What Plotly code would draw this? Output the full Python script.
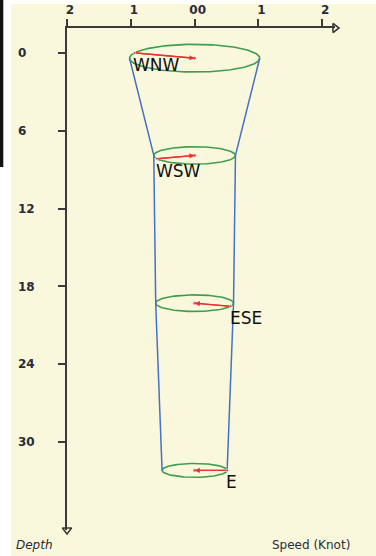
import numpy as np
import plotly.graph_objects as go

# ---- data ----
depths = [0.4, 7.9, 19.3, 32.2]
speeds = [1.02, 0.64, 0.61, 0.51]
directions = ["WNW", "WSW", "ESE", "E"]

x_tick_vals = [-2, -1, 0, 1, 2]
x_tick_text = ["2", "1", "00", "1", "2"]
depth_ticks = [0, 6, 12, 18, 24, 30]

COMPASS = {"N": 0, "NNE": 22.5, "NE": 45, "ENE": 67.5, "E": 90, "ESE": 112.5,
           "SE": 135, "SSE": 157.5, "S": 180, "SSW": 202.5, "SW": 225,
           "WSW": 247.5, "W": 270, "WNW": 292.5, "NW": 315, "NNW": 337.5}

X_RANGE = [-2, 2.2]
Y_RANGE = [36.8, -1.93]
FLAT = 1.05  # vertical radius of each ellipse (depth units) per knot

BG = "#FAF8DC"
AX = "#3a3a3a"
GREEN = "#3f9d4f"
BLUE = "#4672c4"
RED = "#e8332f"
TXT = "#2a2a3a"

W, H = 376, 556
L_PX, R_PX, T_PX, B_PX = 67, 335, 28, 530
PAPER_W = R_PX  # margin l = 0

fig = go.Figure()
t = np.linspace(0, 2 * np.pi, 161)
for d, s in zip(depths, speeds):
    ry = s * FLAT
    fig.add_trace(go.Scatter(x=s * np.cos(t), y=d + ry * np.sin(t), mode="lines",
                             line=dict(color=GREEN, width=1.6), hoverinfo="skip",
                             showlegend=False))

fig.add_trace(go.Scatter(x=[-s for s in speeds], y=depths, mode="lines",
                         line=dict(color=BLUE, width=1.5), showlegend=False, hoverinfo="skip"))
fig.add_trace(go.Scatter(x=speeds, y=depths, mode="lines",
                         line=dict(color=BLUE, width=1.5), showlegend=False, hoverinfo="skip"))

for d, s, lab in zip(depths, speeds, directions):
    th = np.deg2rad(COMPASS[lab])
    x0 = s * np.sin(th)
    y0 = d - s * FLAT * np.cos(th)
    fig.add_trace(go.Scatter(x=[x0, 0], y=[y0, d], mode="lines+markers",
                             marker=dict(size=[3, 4], color=RED),
                             line=dict(color=RED, width=1.4), showlegend=False,
                             hoverinfo="skip"))
    fig.add_annotation(x=0, y=d, ax=x0, ay=y0, axref="x", ayref="y", xref="x", yref="y",
                       text="", showarrow=True, arrowhead=2, arrowsize=0.8,
                       arrowwidth=1.3, arrowcolor=RED)
    fig.add_annotation(x=x0, y=y0, text=lab, xanchor="left", yanchor="top",
                       showarrow=False, yshift=0, xshift=-3,
                       font=dict(family="DejaVu Sans", size=17, color="#111111"))

# axis arrow heads at the ends of the axes
fig.add_trace(go.Scatter(x=[X_RANGE[1]], y=[Y_RANGE[1]], mode="markers", cliponaxis=False,
                         marker=dict(symbol="triangle-right-open", size=8, color=AX,
                                     line=dict(color=AX, width=1.6)),
                         showlegend=False, hoverinfo="skip"))
fig.add_trace(go.Scatter(x=[X_RANGE[0]], y=[Y_RANGE[0]], mode="markers", cliponaxis=False,
                         marker=dict(symbol="triangle-down-open", size=8, color=AX,
                                     line=dict(color=AX, width=1.6)),
                         showlegend=False, hoverinfo="skip"))

tickfont = dict(family="DejaVu Sans", size=12, color=TXT, weight="bold")

fig.update_layout(
    width=W, height=H,
    margin=dict(l=0, r=W - R_PX, t=T_PX, b=H - B_PX, pad=0),
    paper_bgcolor=BG, plot_bgcolor="rgba(0,0,0,0)",
    showlegend=False,
    xaxis=dict(range=X_RANGE, domain=[L_PX / PAPER_W, 1], side="top",
               showline=True, linecolor=AX, linewidth=2,
               ticks="outside", ticklen=7, tickwidth=2, tickcolor=AX,
               tickvals=x_tick_vals, ticktext=x_tick_text, tickfont=tickfont,
               ticklabelstandoff=0, ticklabelshift=3,
               showgrid=False, zeroline=False, fixedrange=True),
    yaxis=dict(range=Y_RANGE, showline=True, linecolor=AX, linewidth=2,
               ticks="outside", ticklen=7, tickwidth=2, tickcolor=AX,
               tickvals=depth_ticks, showticklabels=False,
               showgrid=False, zeroline=False, fixedrange=True),
    yaxis2=dict(range=Y_RANGE, overlaying="y", anchor="free", side="left",
                position=14 / PAPER_W, ticklabelposition="inside",
                tickvals=depth_ticks, tickfont=tickfont, ticks="",
                showline=False, showgrid=False, zeroline=False, fixedrange=True),
)

fig.add_trace(go.Scatter(x=[None], y=[None], yaxis="y2", showlegend=False, hoverinfo="skip"))

# white strips / black bar at the image edges
py = lambda v: (B_PX - v) / (B_PX - T_PX)
def pxp(v):
    return v / PAPER_W
fig.add_shape(type="rect", xref="paper", yref="paper", x0=pxp(0), x1=pxp(11),
              y0=py(H), y1=py(0), fillcolor="white", line_width=0, layer="above")
fig.add_shape(type="rect", xref="paper", yref="paper", x0=pxp(0), x1=pxp(W),
              y0=py(4), y1=py(0), fillcolor="white", line_width=0, layer="above")
fig.add_shape(type="rect", xref="paper", yref="paper", x0=pxp(0), x1=pxp(3.3),
              y0=py(167), y1=py(0), fillcolor="#111111", line_width=0, layer="above")

fig.add_annotation(xref="paper", yref="paper", x=pxp(14), y=py(545), text="<i>Depth</i>",
                   xanchor="left", yanchor="middle", showarrow=False,
                   font=dict(family="DejaVu Sans", size=12, color=TXT))
fig.add_annotation(xref="paper", yref="paper", x=pxp(352), y=py(545), text="Speed (Knot)",
                   xanchor="right", yanchor="middle", showarrow=False,
                   font=dict(family="DejaVu Sans", size=12, color=TXT))

fig.write_html("out.html", config={"displayModeBar": False},
               post_script="document.body.style.margin='0';document.body.style.overflow='hidden';")
